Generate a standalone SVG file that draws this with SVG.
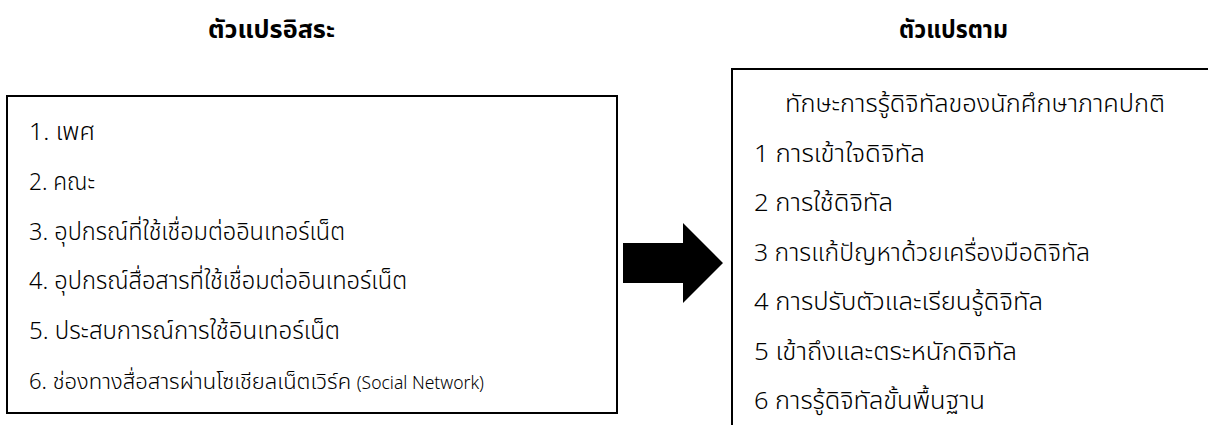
<svg xmlns="http://www.w3.org/2000/svg" width="1208" height="425" viewBox="0 0 1208 425">
<style>
text{font-family:"Noto Sans Thai","Noto Sans","DejaVu Sans",sans-serif;fill:#000}
.h{font-size:24px;font-weight:bold}
.t{font-size:24px;font-weight:300}
.th6{font-size:22px}
.lat{font-size:17.5px;font-weight:300}
.box{fill:#fff;stroke:#000;stroke-width:2}
</style>
<rect width="1208" height="425" fill="#fff"/>
<g id="headers">
<text class="h" x="208" y="38" textLength="127" lengthAdjust="spacingAndGlyphs">ตัวแปรอิสระ</text>
<text class="h" x="899" y="38" textLength="109" lengthAdjust="spacingAndGlyphs">ตัวแปรตาม</text>
</g>
<g id="independent">
<rect class="box" x="7" y="96" width="610" height="317"/>
<text class="t" x="29" y="140" textLength="66" lengthAdjust="spacingAndGlyphs">1. เพศ</text>
<text class="t" x="29" y="190" textLength="66" lengthAdjust="spacingAndGlyphs">2. คณะ</text>
<text class="t" x="29" y="240" textLength="316" lengthAdjust="spacingAndGlyphs">3. อุปกรณ์ที่ใช้เชื่อมต่ออินเทอร์เน็ต</text>
<text class="t" x="29" y="289" textLength="378" lengthAdjust="spacingAndGlyphs">4. อุปกรณ์สื่อสารที่ใช้เชื่อมต่ออินเทอร์เน็ต</text>
<text class="t" x="29" y="339" textLength="311" lengthAdjust="spacingAndGlyphs">5. ประสบการณ์การใช้อินเทอร์เน็ต</text>
<text class="t" x="29" y="389"><tspan class="th6">6. ช่องทางสื่อสารผ่านโซเชียลเน็ตเวิร์ค </tspan><tspan class="lat">(Social Network)</tspan></text>
</g>
<g id="dependent">
<path d="M732,430 V69 H1210" fill="none" stroke="#000" stroke-width="2"/>
<text class="t" x="785" y="112" textLength="380" lengthAdjust="spacingAndGlyphs">ทักษะการรู้ดิจิทัลของนักศึกษาภาคปกติ</text>
<text class="t" x="754" y="162" textLength="171" lengthAdjust="spacingAndGlyphs">1 การเข้าใจดิจิทัล</text>
<text class="t" x="754" y="211" textLength="139" lengthAdjust="spacingAndGlyphs">2 การใช้ดิจิทัล</text>
<text class="t" x="754" y="261" textLength="336" lengthAdjust="spacingAndGlyphs">3 การแก้ปัญหาด้วยเครื่องมือดิจิทัล</text>
<text class="t" x="754" y="310" textLength="289" lengthAdjust="spacingAndGlyphs">4 การปรับตัวและเรียนรู้ดิจิทัล</text>
<text class="t" x="754" y="360" textLength="263" lengthAdjust="spacingAndGlyphs">5 เข้าถึงและตระหนักดิจิทัล</text>
<text class="t" x="754" y="409" textLength="231" lengthAdjust="spacingAndGlyphs">6 การรู้ดิจิทัลขั้นพื้นฐาน</text>
</g>
<g id="connectors">
<polygon points="623,243 683,243 683,223 723,263 683,303 683,283 623,283" fill="#000"/>
</g>
</svg>
